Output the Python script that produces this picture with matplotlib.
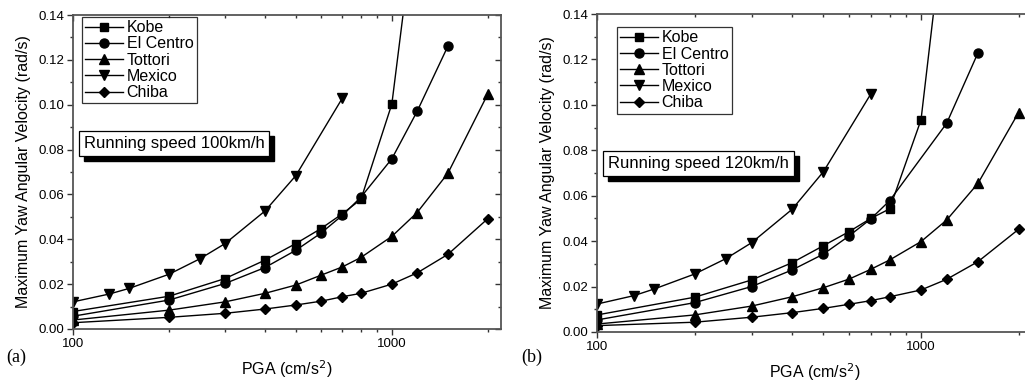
import matplotlib
matplotlib.use("Agg")
import matplotlib.pyplot as plt
from matplotlib.patches import Rectangle
from matplotlib.transforms import IdentityTransform
from matplotlib.ticker import FixedLocator, FixedFormatter, MultipleLocator, FormatStrFormatter

plt.rcParams["font.family"] = ["Liberation Sans", "DejaVu Sans"]

# ---- data, panel (a): 100 km/h ----
kobe_x_a = [100, 200, 300, 400, 500, 600, 700, 800, 1000, 1200]
kobe_y_a = [0.0078, 0.0146, 0.0225, 0.0307, 0.0381, 0.0448, 0.0514, 0.0578, 0.1003, 0.19]
elc_x_a = [100, 200, 300, 400, 500, 600, 700, 800, 1000, 1200, 1500]
elc_y_a = [0.0057, 0.0129, 0.0203, 0.0274, 0.0351, 0.0428, 0.0507, 0.0588, 0.0759, 0.0970, 0.1262]
tot_x_a = [100, 200, 300, 400, 500, 600, 700, 800, 1000, 1200, 1500, 2000]
tot_y_a = [0.0040, 0.0084, 0.0121, 0.0159, 0.0196, 0.0240, 0.0277, 0.0319, 0.0413, 0.0519, 0.0695, 0.1048]
mex_x_a = [100, 130, 150, 200, 250, 300, 400, 500, 700]
mex_y_a = [0.0121, 0.0156, 0.0181, 0.0244, 0.0313, 0.0381, 0.0526, 0.0684, 0.1030]
chi_x_a = [100, 200, 300, 400, 500, 600, 700, 800, 1000, 1200, 1500, 2000]
chi_y_a = [0.0028, 0.0052, 0.0070, 0.0089, 0.0107, 0.0124, 0.0144, 0.0159, 0.0200, 0.0250, 0.0333, 0.0492]

# ---- data, panel (b): 120 km/h ----
kobe_x_b = [100, 200, 300, 400, 500, 600, 700, 800, 1000, 1200]
kobe_y_b = [0.0075, 0.0153, 0.0229, 0.0305, 0.0380, 0.0442, 0.0500, 0.0542, 0.0934, 0.19]
elc_x_b = [100, 200, 300, 400, 500, 600, 700, 800, 1200, 1500]
elc_y_b = [0.0053, 0.0129, 0.0200, 0.0273, 0.0343, 0.0423, 0.0498, 0.0578, 0.0919, 0.1230]
tot_x_b = [100, 200, 300, 400, 500, 600, 700, 800, 1000, 1200, 1500, 2000]
tot_y_b = [0.0035, 0.0075, 0.0114, 0.0155, 0.0195, 0.0233, 0.0276, 0.0317, 0.0398, 0.0493, 0.0655, 0.0966]
mex_x_b = [100, 130, 150, 200, 250, 300, 400, 500, 700]
mex_y_b = [0.0123, 0.0160, 0.0189, 0.0255, 0.0323, 0.0393, 0.0540, 0.0706, 0.1048]
chi_x_b = [100, 200, 300, 400, 500, 600, 700, 800, 1000, 1200, 1500, 2000]
chi_y_b = [0.0028, 0.0043, 0.0065, 0.0085, 0.0104, 0.0122, 0.0138, 0.0155, 0.0185, 0.0232, 0.0310, 0.0452]

names = ["Kobe", "El Centro", "Tottori", "Mexico", "Chiba"]
markers = ["s", "o", "^", "v", "D"]
msizes = [6, 6.5, 6.5, 6.5, 5.5]

# tag, text, series, axes rect, legend anchor, text pos, tag pos (fig px)
panels = [
    ("(a)", "Running speed 100km/h",
     [(kobe_x_a, kobe_y_a), (elc_x_a, elc_y_a), (tot_x_a, tot_y_a), (mex_x_a, mex_y_a), (chi_x_a, chi_y_a)],
     [0.0712, 0.141, 0.4176, 0.8198], (0.021, 0.994), (0.025, 0.592), (6, 357)),
    ("(b)", "Running speed 120km/h",
     [(kobe_x_b, kobe_y_b), (elc_x_b, elc_y_b), (tot_x_b, tot_y_b), (mex_x_b, mex_y_b), (chi_x_b, chi_y_b)],
     [0.5824, 0.1332, 0.4244, 0.8302], (0.046, 0.959), (0.025, 0.531), (521, 357)),
]

fig = plt.figure(figsize=(10.25, 3.83), dpi=100)
spine_col = "#555555"
speed_texts = []

for tag, speed, series, rect, leg_anchor, txt_pos, tag_pos in panels:
    ax = fig.add_axes(rect)
    for (x, y), name, m, ms in zip(series, names, markers, msizes):
        ax.plot(x, y, color="black", lw=1.0, marker=m, ms=ms,
                mfc="black", mec="black", label=name)
    ax.set_xscale("log")
    ax.set_xlim(100, 2200)
    ax.set_ylim(0, 0.14)
    ax.set_autoscale_on(False)

    ax.xaxis.set_major_locator(FixedLocator([100, 1000]))
    ax.xaxis.set_major_formatter(FixedFormatter(["100", "1000"]))
    ax.xaxis.set_minor_locator(FixedLocator([200, 300, 400, 500, 600, 700, 800, 900, 2000]))
    ax.xaxis.set_minor_formatter(FixedFormatter([""] * 9))
    ax.yaxis.set_major_locator(MultipleLocator(0.02))
    ax.yaxis.set_minor_locator(MultipleLocator(0.01))
    ax.yaxis.set_major_formatter(FormatStrFormatter("%.2f"))

    ax.tick_params(which="both", direction="out", labelsize=9.5, color="#333333",
                   width=1.0, top=True, right=True, pad=2.5)
    ax.tick_params(which="major", length=4)
    ax.tick_params(which="minor", length=2.5)
    # top and right ticks point inward
    for tk in ax.xaxis.get_major_ticks() + ax.xaxis.get_minor_ticks():
        tk.tick2line.set_marker(3)
    for tk in ax.yaxis.get_major_ticks() + ax.yaxis.get_minor_ticks():
        tk.tick2line.set_marker(0)

    for s in ax.spines.values():
        s.set_color(spine_col)
        s.set_linewidth(1.3)

    ax.set_ylabel("Maximum Yaw Angular Velocity (rad/s)", fontsize=11.5, labelpad=5)
    ax.set_xlabel("PGA (cm/s$^2$)", fontsize=11.5, labelpad=6)

    leg = ax.legend(loc="upper left", bbox_to_anchor=leg_anchor,
                    fontsize=11.5, handlelength=2.4, handletextpad=0.2, labelspacing=0.08,
                    borderpad=0.2, borderaxespad=0.0, frameon=True, fancybox=False)
    leg.get_frame().set_edgecolor("black")
    leg.get_frame().set_linewidth(0.9)

    t = ax.text(txt_pos[0], txt_pos[1], speed, transform=ax.transAxes, fontsize=12,
                va="center", ha="left", zorder=7,
                bbox=dict(boxstyle="square,pad=0.3", fc="white", ec="black", lw=0.9))
    speed_texts.append((ax, t))

    fig.text(tag_pos[0] / 1025, 1 - tag_pos[1] / 383, tag, fontsize=13,
             family=["Liberation Serif", "DejaVu Serif"], ha="left", va="center")

# drop shadow behind the "Running speed" boxes
fig.canvas.draw()
for ax, t in speed_texts:
    bb = t.get_bbox_patch().get_window_extent()
    shadow = Rectangle((bb.x0 + 5, bb.y0 - 5), bb.width, bb.height,
                       transform=IdentityTransform(), fc="black", ec="black",
                       zorder=6, clip_on=False)
    ax.add_artist(shadow)

fig.savefig("out.png", dpi=100)
